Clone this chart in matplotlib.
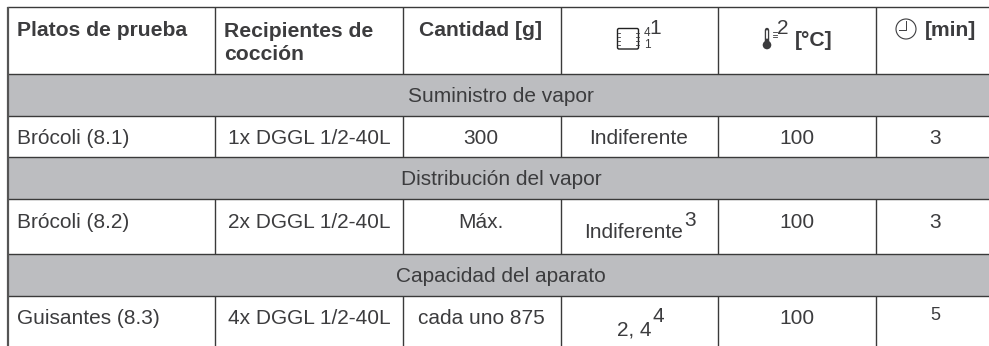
import matplotlib
matplotlib.use("Agg")
import matplotlib.pyplot as plt
from matplotlib.patches import Rectangle, FancyBboxPatch, Circle

plt.rcParams['font.family'] = ['Liberation Sans', 'DejaVu Sans']

headers = ["Platos de prueba", "Recipientes de\ncocción", "Cantidad [g]"]
sections = ["Suministro de vapor", "Distribución del vapor", "Capacidad del aparato"]
dishes = ["Brócoli (8.1)", "Brócoli (8.2)", "Guisantes (8.3)"]
vessels = ["1x DGGL 1/2-40L", "2x DGGL 1/2-40L", "4x DGGL 1/2-40L"]
amounts = ["300", "Máx.", "cada uno 875"]
levels = ["Indiferente", "Indiferente", "2, 4"]
level_notes = ["", "3", "4"]
temps = ["100", "100", "100"]
times = ["3", "3", "5"]

# pixel layout of the grid
col_x = [8, 215, 402.5, 560.5, 718, 876, 989]
grey_rows = [(74, 116), (157, 199), (254, 296)]
row_y = [7, 74, 116, 157, 199, 254, 296]
text_y = [138.5, 222.5, 318.5]
level_x = [639, 634, 634]
level_y = [138.5, 232.5, 329.5]
note_y = [0, 220, 317]
time_y = [138.5, 222.5, 316]
bottom = 346

ink = '#3c3c3e'
line = '#3a3a3a'
fs = 15.0

fig = plt.figure(figsize=(9.89, 3.46), dpi=100)
ax = fig.add_axes([0, 0, 1, 1])
ax.set_xlim(0, 989)
ax.set_ylim(346, 0)
ax.axis('off')

for top, low in grey_rows:
    ax.add_patch(Rectangle((8, top), 981, low - top, color='#bcbdc0', lw=0))

for y in row_y:
    ax.plot([7, 989], [y, y], color=line, lw=1.0, solid_capstyle='butt')
ax.plot([8, 8], [6.5, bottom], color='#555555', lw=1.6, solid_capstyle='butt')
for i in range(1, 6):
    x = col_x[i]
    for y0, y1 in [(7, 74), (116, 157), (199, 254), (296, bottom)]:
        ax.plot([x, x], [y0, y1], color=line, lw=1.0, solid_capstyle='butt')

# header
ax.text(17, 30.5, headers[0], fontsize=15.2, fontweight='bold', color=ink, va='center')
ax.text(224, 43, headers[1], fontsize=15.2, fontweight='bold', color=ink, va='center', linespacing=1.27)
ax.text(481, 30.5, headers[2], fontsize=15.2, fontweight='bold', color=ink, va='center', ha='center')

# shelf icon
ax.add_patch(FancyBboxPatch((617.5, 28.5), 21, 20.5, boxstyle="round,pad=0,rounding_size=1.5",
                            fc='white', ec='#222222', lw=1.0))
for yy in [33, 37, 41, 45]:
    ax.plot([617.5, 620], [yy, yy], color=ink, lw=0.6)
    ax.plot([636, 638.5], [yy, yy], color=ink, lw=0.6)
ax.text(647, 32.5, "4", fontsize=8.5, color=ink, ha='center', va='center')
ax.text(647, 45.5, "1", fontsize=8.5, color=ink, ha='center', va='center')
ax.text(655, 28, "1", fontsize=fs, color=ink, ha='center', va='center')

# thermometer icon
ax.plot([767, 767], [30, 44], color=ink, lw=3.2, solid_capstyle='round')
ax.plot([767, 767], [31, 38], color='white', lw=1.3, solid_capstyle='round')
ax.add_patch(Circle((767, 45), 4.3, color=ink, lw=0))
for yy in [32, 34.5, 37]:
    ax.plot([773, 777], [yy, yy], color=ink, lw=0.6)
ax.text(783, 28, "2", fontsize=fs, color=ink, ha='center', va='center')
ax.text(795, 41, "[°C]", fontsize=15.2, fontweight='bold', color=ink, va='center')

# clock icon
ax.add_patch(Circle((906, 29), 10, fc='white', ec=ink, lw=0.8))
ax.plot([906, 906, 898.5], [21, 30, 30], color=ink, lw=0.7)
ax.text(925, 30, "[min]", fontsize=15.2, fontweight='bold', color=ink, va='center')

# section rows
for (top, low), s in zip(grey_rows, sections):
    ax.text(501, (top + low) / 2 + 1.5, s, fontsize=fs, color=ink, ha='center', va='center')

# body rows
for i in range(3):
    y = text_y[i]
    ax.text(17, y, dishes[i], fontsize=fs, color=ink, va='center')
    ax.text(309, y, vessels[i], fontsize=fs, color=ink, va='center', ha='center')
    ax.text(481, y, amounts[i], fontsize=fs, color=ink, va='center', ha='center')
    t = ax.text(level_x[i], level_y[i], levels[i], fontsize=fs, color=ink, va='center', ha='center')
    if level_notes[i]:
        bb = t.get_window_extent(fig.canvas.get_renderer())
        ax.text(bb.x1 + 1, note_y[i], level_notes[i], fontsize=fs, color=ink, va='center')
    ax.text(797, y, temps[i], fontsize=fs, color=ink, va='center', ha='center')
    ax.text(935, time_y[i], times[i], fontsize=fs if i < 2 else 13, color=ink, va='center', ha='center')

fig.savefig("out.png", dpi=100)
